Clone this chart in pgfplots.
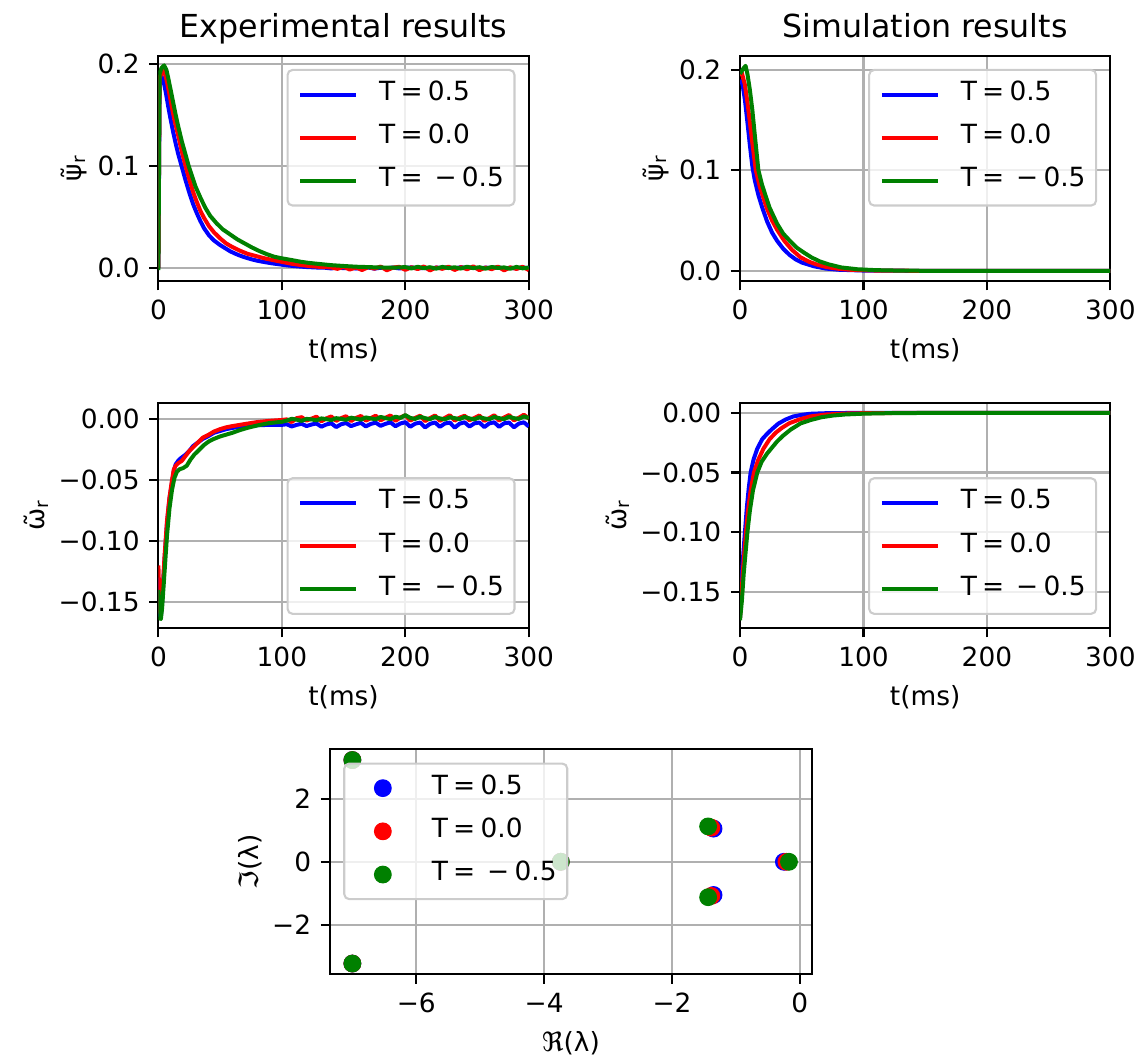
\documentclass[border=0pt]{standalone}
\usepackage{fontspec}
\setmainfont{DejaVu Sans}
\usepackage{pgfplots}
\pgfplotsset{compat=1.18}
\definecolor{mplgreen}{HTML}{008000}
\definecolor{gridgray}{HTML}{B0B0B0}
\definecolor{legedge}{HTML}{CCCCCC}
\newcommand\fs{\fontsize{13.2}{15.8}\selectfont}
\newcommand\Teq[1]{T\hspace{0.2em}=\hspace{0.2em}#1}
\newcommand\Tneg{T\hspace{0.2em}=\hspace{0.45em}−\hspace{0.2em}0.5}

\pgfplotsset{
  every axis title shift=0pt,
  mpl/.style={
    scale only axis, anchor=north west, scaled ticks=false,
    axis line style={line width=1.05pt},
    every tick/.style={black, line width=1.05pt},
    major tick length=4.62pt, tick align=outside,
    xtick pos=left, ytick pos=left,
    grid=major, grid style={gridgray, line width=1.05pt},
    xticklabel style={font=\fs, inner sep=0pt},
    yticklabel style={font=\fs, inner sep=0pt},
    xticklabel shift=4.6pt, yticklabel shift=4.6pt,
    title style={font=\fontsize{15.84}{19}\selectfont, at={(0.5,1)}, anchor=base, yshift=8.85pt},
    xlabel style={font=\fs, at={(axis description cs:0.5,-0.343)}, anchor=base},
    ylabel style={font=\fs, anchor=south, inner sep=0pt},
    legend cell align=left,
    legend style={draw=legedge, line width=1.05pt, fill=white, fill opacity=0.8,
      text opacity=1, rounded corners=2.5pt, font=\fs,
      inner xsep=5.3pt, inner ysep=5.3pt, row sep=7.6pt,
      nodes={inner sep=0pt, text height=10pt, text depth=4pt},
      /tikz/every odd column/.append style={column sep=10.5pt}},
    legend image code/.code={\draw[##1, line width=2pt] (0pt,0pt) -- (28pt,0pt);},
    every axis plot/.append style={line width=2pt, line join=round},
  },
  tplot/.style={mpl, xmin=0, xmax=300, xtick={0,100,200,300},
    xticklabels={0,100,200,300}, xlabel={t(ms)}, width=185.2pt, height=112.7pt},
  psiplot/.style={tplot, ytick={0,0.1,0.2}, yticklabels={0.0,0.1,0.2},
    ylabel={ψ̃\textsubscript{r}}, ylabel style={at={(axis description cs:-0.1915,0.5)}},
    legend style={at={(1,1)}, anchor=north east, xshift=-6.6pt, yshift=-6.6pt}},
  omgplot/.style={tplot, ytick={-0.15,-0.1,-0.05,0},
    yticklabels={−0.15,−0.10,−0.05,0.00},
    ylabel={ω̃\textsubscript{r}}, ylabel style={at={(axis description cs:-0.2967,0.5)}},
    legend style={at={(1,0)}, anchor=south east, xshift=-6.6pt, yshift=6.6pt}},
  eigimg/.style={legend image code/.code={%
    \path[draw=none, fill=none] (0pt,-1pt) rectangle (28pt,1pt);
    \draw[##1, only marks, mark repeat=2, mark phase=2, fill opacity=1]
      plot coordinates {(0pt,0pt) (14pt,0pt) (28pt,0pt)};}},
}

\begin{document}
\begin{tikzpicture}
\path[use as bounding box] (0pt,0pt) rectangle (571pt,-529.5pt);

% ---------------- experimental psi ----------------
\begin{axis}[psiplot, at={(79.2pt,-27.85pt)}, ymin=-0.0128, ymax=0.208,
  title={Experimental results}]
\addplot[blue] coordinates {
 (0,0.000) (1,0.180) (2.5,0.188) (4,0.184) (6,0.172) (8,0.158) (10,0.145)
 (12,0.133) (14,0.122) (16,0.112) (19,0.099) (22,0.086) (25,0.074) (28,0.063)
 (31,0.054) (34,0.046) (37,0.039) (41,0.032) (45,0.027) (50,0.0225) (54,0.0195)
 (58,0.0165) (62,0.0142) (66,0.0122) (70,0.0105) (75,0.0087) (80,0.0072)
 (86,0.0058) (92,0.0046) (100,0.0033) (105,0.0025) (110,0.0019) (115,0.0014)
 (120,0.0010) (125,0.0007) (130,0.0004)
 (135,0.0003) (140,-0.0004) (145,0.0006) (150,-0.0002) (155,0.0004) (160,-0.0005)
 (165,0.0002) (170,0.0005) (175,-0.0006) (180,0.0003) (185,-0.0002) (190,0.0005)
 (195,-0.0004) (200,0.0002) (205,0.0006) (210,-0.0003) (215,0.0001) (220,-0.0006)
 (225,0.0004) (230,0.0000) (235,0.0005) (240,-0.0004) (245,0.0008) (250,-0.0002)
 (255,0.0003) (260,-0.0005) (265,0.0004) (270,-0.0001) (275,0.0006) (280,-0.0004)
 (285,0.0002) (290,-0.0003) (295,0.0005) (300,-0.0002)
};
\addlegendentry{\Teq{0.5}}
\addplot[red] coordinates {
 (0,0.000) (1,0.186) (3.5,0.194) (5,0.192) (7,0.182) (9,0.170) (11,0.157)
 (13,0.145) (16,0.130) (19,0.114) (22,0.100) (25,0.087) (28,0.075) (31,0.065)
 (34,0.056) (37,0.049) (41,0.041) (45,0.035) (50,0.029) (55,0.024) (60,0.0205)
 (66,0.017) (72,0.014) (80,0.0114) (87,0.0092) (94,0.0075) (101,0.0058)
 (108,0.0042) (115,0.0030) (122,0.0020) (130,0.0012) (140,0.0006)
 (145,-0.0008) (150,0.0012) (155,-0.0015) (160,0.0006) (165,-0.0020) (170,0.0010)
 (175,-0.0006) (180,0.0014) (185,-0.0022) (190,0.0004) (195,0.0012) (200,-0.0018)
 (205,0.0008) (210,-0.0010) (215,0.0015) (220,-0.0024) (225,0.0006) (230,-0.0008)
 (235,0.0013) (240,-0.0019) (245,0.0009) (250,-0.0012) (255,0.0016) (260,-0.0021)
 (265,0.0005) (270,-0.0011) (275,0.0014) (280,-0.0023) (285,0.0007) (290,-0.0009)
 (295,0.0012) (300,-0.0020)
};
\addlegendentry{\Teq{0.0}}
\addplot[mplgreen] coordinates {
 (0,-0.002) (1,0.190) (2.5,0.196) (4.6,0.1985) (6.5,0.194) (8,0.186) (10,0.174)
 (12,0.162) (14,0.150) (16,0.139) (19,0.124) (22,0.111) (24.5,0.100) (27,0.091)
 (30,0.080) (34,0.069) (38,0.059) (42,0.051) (47,0.044) (52,0.038) (58,0.033)
 (64,0.028) (70,0.024) (76,0.020) (82,0.0165) (88,0.0135) (94,0.011) (100,0.0095)
 (108,0.0078) (115,0.0062) (122,0.0050) (130,0.0040) (140,0.0028) (150,0.0020)
 (160,0.0013) (175,0.0007) (190,0.0003)
 (200,0.0009) (205,-0.0004) (210,0.0012) (215,-0.0002) (220,0.0008) (225,-0.0006)
 (230,0.0011) (235,0.0000) (240,0.0007) (245,-0.0005) (250,0.0013) (255,-0.0001)
 (260,0.0008) (265,-0.0006) (270,0.0010) (275,0.0001) (280,0.0006) (285,-0.0007)
 (290,0.0011) (295,-0.0003) (300,0.0005)
};
\addlegendentry{\Tneg}
\end{axis}

% ---------------- simulated psi ----------------
\begin{axis}[psiplot, at={(370pt,-27.85pt)}, ymin=-0.0102, ymax=0.2141,
  title={Simulation results}]
\addplot[blue] coordinates {
 (0,0.190) (2,0.186) (4,0.170) (6,0.148) (8,0.125) (10,0.104) (12,0.090)
 (15,0.075) (18,0.063) (22,0.049) (26,0.038) (30,0.030) (35,0.022) (40,0.016)
 (45,0.0115) (50,0.0083) (60,0.0045) (70,0.0022) (80,0.0011) (100,0.0003)
 (150,0.0000) (300,0.0000)
};
\addlegendentry{\Teq{0.5}}
\addplot[red] coordinates {
 (0,0.194) (1.5,0.197) (4,0.185) (6,0.168) (8,0.148) (10,0.127) (12.8,0.100)
 (16,0.084) (21.5,0.063) (26,0.050) (30,0.041) (35.8,0.030) (42,0.021)
 (49,0.0135) (56,0.0090) (63,0.0060) (70,0.0038) (80,0.0020) (90,0.0010)
 (110,0.0003) (150,0.0000) (300,0.0000)
};
\addlegendentry{\Teq{0.0}}
\addplot[mplgreen] coordinates {
 (0,0.196) (2.5,0.201) (4.5,0.204) (6,0.196) (8,0.180) (10,0.160) (12,0.135)
 (14.9,0.100) (18,0.085) (23.9,0.063) (30,0.047) (35,0.037) (40.3,0.030)
 (46,0.023) (52,0.018) (58,0.0133) (65,0.0092) (72,0.0064) (82,0.0034)
 (95,0.0016) (110,0.0007) (130,0.0002) (160,0.0000) (300,0.0000)
};
\addlegendentry{\Tneg}
\end{axis}

% ---------------- experimental omega ----------------
\begin{axis}[omgplot, at={(79.2pt,-201.35pt)}, ymin=-0.1714, ymax=0.0137]
\addplot[blue] coordinates {
 (0,-0.130) (1,-0.160) (2,-0.162) (3,-0.150) (5,-0.115) (7,-0.085) (9,-0.065)
 (11,-0.052) (12.5,-0.042) (14,-0.037) (16,-0.034) (18,-0.032) (20,-0.0305)
 (22,-0.029) (25,-0.026) (28,-0.022) (32,-0.019) (36,-0.016) (40,-0.014)
 (45,-0.011) (50,-0.0095) (55,-0.008) (60,-0.007) (66,-0.006) (72,-0.0055)
 (80,-0.0048) (90,-0.0045) (100,-0.0045)
 (104,-0.0040) (108,-0.0058) (112,-0.0045) (116,-0.0036) (120,-0.0055) (124,-0.0042)
 (128,-0.0034) (132,-0.0060) (136,-0.0042) (140,-0.0032) (144,-0.0063) (148,-0.0040)
 (152,-0.0030) (156,-0.0055) (160,-0.0041) (164,-0.0028) (168,-0.0058) (172,-0.0037)
 (176,-0.0027) (180,-0.0053) (184,-0.0036) (188,-0.0025) (192,-0.0056) (196,-0.0034)
 (200,-0.0023) (204,-0.0060) (208,-0.0035) (212,-0.0026) (216,-0.0066) (220,-0.0037)
 (224,-0.0025) (228,-0.0061) (232,-0.0034) (236,-0.0026) (240,-0.0068) (244,-0.0035)
 (248,-0.0024) (252,-0.0059) (256,-0.0032) (260,-0.0026) (264,-0.0063) (268,-0.0033)
 (272,-0.0024) (276,-0.0061) (280,-0.0032) (284,-0.0026) (288,-0.0065) (292,-0.0034)
 (296,-0.0024) (300,-0.0058)
};
\addlegendentry{\Teq{0.5}}
\addplot[red] coordinates {
 (0,-0.120) (1,-0.155) (2,-0.160) (3,-0.148) (5,-0.112) (7,-0.083) (9,-0.064)
 (11,-0.050) (12.5,-0.041) (14,-0.038) (16,-0.036) (19,-0.034) (22,-0.030)
 (25,-0.026) (28,-0.023) (32,-0.019) (36,-0.015) (40,-0.013) (45,-0.010)
 (50,-0.008) (55,-0.0065) (60,-0.0055) (66,-0.0045) (72,-0.0035) (80,-0.0022)
 (90,-0.0012) (100,-0.0005)
 (104,0.0000) (108,-0.0022) (112,0.0010) (116,0.0018) (120,-0.0010) (124,0.0006)
 (128,0.0022) (132,-0.0016) (136,0.0008) (140,0.0024) (144,-0.0012) (148,0.0010)
 (152,0.0026) (156,-0.0014) (160,0.0012) (164,0.0028) (168,-0.0010) (172,0.0010)
 (176,0.0030) (180,-0.0008) (184,0.0014) (188,0.0032) (192,-0.0012) (196,0.0016)
 (200,0.0034) (204,-0.0010) (208,0.0012) (212,0.0030) (216,-0.0014) (220,0.0010)
 (224,0.0032) (228,-0.0012) (232,0.0012) (236,0.0034) (240,-0.0010) (244,0.0014)
 (248,0.0030) (252,-0.0008) (256,0.0012) (260,0.0032) (264,-0.0012) (268,0.0010)
 (272,0.0034) (276,-0.0010) (280,0.0016) (284,0.0036) (288,-0.0008) (292,0.0014)
 (296,0.0038) (300,0.0008)
};
\addlegendentry{\Teq{0.0}}
\addplot[mplgreen] coordinates {
 (0,-0.140) (1,-0.163) (2,-0.164) (3,-0.155) (5,-0.125) (7,-0.095) (9,-0.073)
 (11,-0.058) (13,-0.048) (15,-0.043) (17,-0.041) (20,-0.040) (23,-0.038)
 (26,-0.033) (29,-0.029) (33,-0.025) (37,-0.021) (41,-0.018) (45,-0.016)
 (50,-0.014) (55,-0.0125) (60,-0.011) (66,-0.0088) (72,-0.007) (80,-0.005)
 (90,-0.003) (100,-0.002)
 (104,-0.0010) (108,0.0005) (112,-0.0002) (116,-0.0012) (120,0.0004) (124,0.0000)
 (128,-0.0008) (132,0.0008) (136,0.0002) (140,-0.0006) (144,0.0010) (148,0.0004)
 (152,-0.0004) (156,0.0014) (160,0.0006) (164,-0.0002) (168,0.0016) (172,0.0008)
 (176,0.0000) (180,0.0020) (184,0.0010) (188,0.0002) (192,0.0022) (196,0.0012)
 (200,0.0035) (204,0.0012) (208,0.0004) (212,0.0022) (216,0.0010) (220,0.0002)
 (224,0.0020) (228,0.0008) (232,0.0000) (236,0.0018) (240,0.0010) (244,0.0002)
 (248,0.0020) (252,0.0008) (256,0.0000) (260,0.0018) (264,0.0008) (268,0.0001)
 (272,0.0020) (276,0.0010) (280,0.0002) (284,0.0022) (288,0.0010) (292,0.0004)
 (296,0.0024) (300,0.0012)
};
\addlegendentry{\Tneg}
\end{axis}

% ---------------- simulated omega ----------------
\begin{axis}[omgplot, at={(370pt,-201.35pt)}, ymin=-0.1806, ymax=0.0086]
\addplot[blue] coordinates {
 (0,-0.171) (1,-0.150) (2,-0.128) (4,-0.100) (5.5,-0.080) (7,-0.064) (8.6,-0.050)
 (11,-0.039) (14,-0.030) (18,-0.022) (22,-0.0175) (26,-0.0135) (31,-0.0090)
 (37,-0.0055) (43,-0.0030) (50,-0.0016) (57,-0.0007) (70,-0.0002) (90,0.0000)
 (300,0.0000)
};
\addlegendentry{\Teq{0.5}}
\addplot[red] coordinates {
 (0,-0.172) (1,-0.156) (2.5,-0.130) (4.9,-0.100) (6.5,-0.082) (8.5,-0.066)
 (11.3,-0.050) (14.5,-0.040) (19,-0.030) (24,-0.022) (29,-0.0165) (34,-0.0125)
 (40,-0.0086) (48,-0.0055) (57,-0.0029) (70,-0.0013) (85,-0.0005) (100,-0.0002)
 (130,0.0000) (300,0.0000)
};
\addlegendentry{\Teq{0.0}}
\addplot[mplgreen] coordinates {
 (0,-0.174) (1.5,-0.158) (3,-0.135) (6,-0.100) (8,-0.082) (10.5,-0.065)
 (14,-0.050) (17.5,-0.041) (22,-0.034) (26,-0.029) (30,-0.024) (35,-0.019)
 (41,-0.0140) (49,-0.0088) (57,-0.0060) (66,-0.0036) (75,-0.0022) (85,-0.0013)
 (100,-0.0006) (120,-0.0002) (150,0.0000) (300,0.0000)
};
\addlegendentry{\Tneg}
\end{axis}

% ---------------- eigenvalues ----------------
\begin{axis}[mpl, eigimg, at={(165pt,-374.65pt)}, width=241pt, height=112.5pt,
  xmin=-7.35, xmax=0.19, ymin=-3.56, ymax=3.56,
  xtick={-6,-4,-2,0}, xticklabels={−6,−4,−2,0},
  ytick={-2,0,2}, yticklabels={−2,0,2},
  xlabel={ℜ(λ)}, ylabel={ℑ(λ)},
  ylabel style={at={(axis description cs:-0.1405,0.5)}},
  legend style={at={(0,1)}, anchor=north west, xshift=6.6pt, yshift=-6.6pt},
  every axis plot/.append style={only marks, mark=*, mark size=4.2pt, line width=0.5pt}]
\addplot[blue, mark options={fill=blue}] coordinates {
 (-7.0,3.22) (-7.0,-3.22) (-3.74,0) (-1.35,1.05) (-1.35,-1.05) (-0.25,0)
};
\addlegendentry{\Teq{0.5}}
\addplot[red, mark options={fill=red}] coordinates {
 (-7.0,3.22) (-7.0,-3.22) (-3.74,0) (-1.385,1.08) (-1.385,-1.08) (-0.21,0)
};
\addlegendentry{\Teq{0.0}}
\addplot[mplgreen, mark options={fill=mplgreen}] coordinates {
 (-7.0,3.22) (-7.0,-3.22) (-3.74,0) (-1.435,1.12) (-1.435,-1.12) (-0.17,0)
};
\addlegendentry{\Tneg}
\end{axis}
\end{tikzpicture}
\end{document}
